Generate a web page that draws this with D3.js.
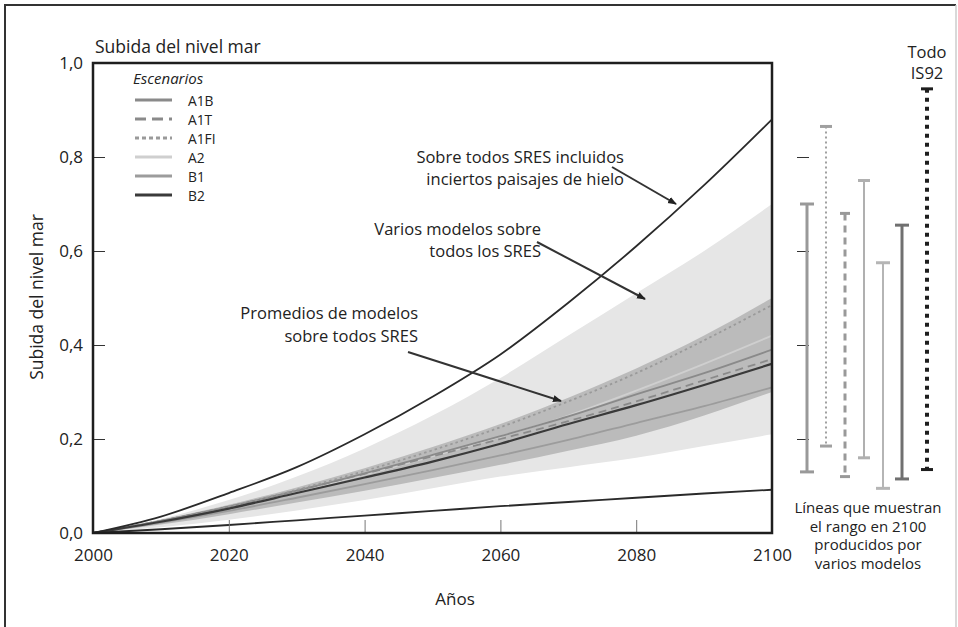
<!DOCTYPE html>
<html>
<head>
<meta charset="utf-8">
<script src="https://cdn.jsdelivr.net/npm/d3@7"></script>
<style>
  body { margin: 0; background: #fff; }
  svg { font-family: "Open Sans", sans-serif; }
  text { fill: #222; }
</style>
</head>
<body>
<div id="canvas"></div>
<script>
// years along the x axis
const years = [2000, 2010, 2020, 2030, 2040, 2050, 2060, 2070, 2080, 2090, 2100];

// outer envelope (all SRES incl. land-ice uncertainty) and lowest bound
const envHigh = [0, 0.035, 0.085, 0.14, 0.21, 0.29, 0.38, 0.49, 0.61, 0.74, 0.88];
const envLow  = [0, 0.008, 0.017, 0.027, 0.037, 0.047, 0.057, 0.066, 0.075, 0.084, 0.092];

// several models, all SRES (light band)
const modelsHigh = [0, 0.03, 0.07, 0.12, 0.18, 0.25, 0.33, 0.42, 0.51, 0.60, 0.70];
const modelsLow  = [0, 0.012, 0.028, 0.048, 0.07, 0.095, 0.12, 0.14, 0.16, 0.185, 0.21];

// model averages, all SRES (dark band)
const meanHigh = [0, 0.028, 0.06, 0.097, 0.138, 0.183, 0.232, 0.288, 0.35, 0.42, 0.50];
const meanLow  = [0, 0.018, 0.04, 0.065, 0.09, 0.117, 0.145, 0.175, 0.207, 0.25, 0.30];

// scenario curves
const scenarios = ["A1B", "A1T", "A1FI", "A2", "B1", "B2"];
const sA1B  = [0, 0.026, 0.056, 0.09, 0.127, 0.166, 0.206, 0.248, 0.295, 0.34, 0.39];
const sA1T  = [0, 0.026, 0.056, 0.09, 0.126, 0.163, 0.2, 0.238, 0.28, 0.325, 0.37];
const sA1FI = [0, 0.025, 0.056, 0.092, 0.132, 0.176, 0.225, 0.28, 0.34, 0.41, 0.485];
const sA2   = [0, 0.024, 0.053, 0.087, 0.124, 0.163, 0.205, 0.25, 0.303, 0.36, 0.42];
const sB1   = [0, 0.022, 0.047, 0.075, 0.104, 0.134, 0.165, 0.198, 0.234, 0.27, 0.31];
const sB2   = [0, 0.024, 0.052, 0.085, 0.118, 0.152, 0.19, 0.232, 0.272, 0.315, 0.36];

// ranges in 2100 from several models
const barNames = ["A1B", "A1FI", "A1T", "A2", "B1", "B2", "IS92"];
const barLow   = [0.13, 0.185, 0.12, 0.16, 0.095, 0.115, 0.135];
const barHigh  = [0.70, 0.865, 0.68, 0.75, 0.575, 0.655, 0.945];

const yTicks = [0, 0.2, 0.4, 0.6, 0.8, 1.0];
const xTicks = [2000, 2020, 2040, 2060, 2080, 2100];

const style = {
  A1B:  { stroke: "#8a8a8a", dash: null },
  A1T:  { stroke: "#8a8a8a", dash: "8,5" },
  A1FI: { stroke: "#9a9a9a", dash: "2.5,3" },
  A2:   { stroke: "#cfcfcf", dash: null },
  B1:   { stroke: "#9c9c9c", dash: null },
  B2:   { stroke: "#3a3a3a", dash: null }
};
const barStyle = {
  A1B:  { stroke: "#999", width: 3, dash: null, cap: 14 },
  A1FI: { stroke: "#a0a0a0", width: 2, dash: "2,3", cap: 12 },
  A1T:  { stroke: "#999", width: 3, dash: "7,5", cap: 10 },
  A2:   { stroke: "#b0b0b0", width: 2, dash: null, cap: 12 },
  B1:   { stroke: "#b5b5b5", width: 2, dash: null, cap: 14 },
  B2:   { stroke: "#707070", width: 3, dash: null, cap: 14 },
  IS92: { stroke: "#1e1e1e", width: 4, dash: "4,5", cap: 12 }
};

const W = 958, H = 627;
const svg = d3.select("#canvas").append("svg")
    .attr("width", W)
    .attr("height", H);

// outer frame
svg.append("path").attr("d", "M5,627V5H956").attr("fill", "none")
    .attr("stroke", "#333").attr("stroke-width", 2);
svg.append("line").attr("x1", 956).attr("x2", 956).attr("y1", 5).attr("y2", 627)
    .attr("stroke", "#ccc").attr("stroke-width", 1.5);

const x = d3.scaleLinear().domain([2000, 2100]).range([93, 772]);
const y = d3.scaleLinear().domain([0, 1]).range([533, 63]);

const zip = arr => years.map((yr, i) => ({ yr, v: arr[i] }));
const line = d3.line().x(d => x(d.yr)).y(d => y(d.v)).curve(d3.curveMonotoneX);
const band = (lo, hi) => d3.area()
    .x((d, i) => x(years[i]))
    .y0((d, i) => y(lo[i]))
    .y1((d, i) => y(hi[i]))
    .curve(d3.curveMonotoneX)(years);

// bands
svg.append("path").attr("d", band(modelsLow, modelsHigh)).attr("fill", "#e6e6e6");
svg.append("path").attr("d", band(meanLow, meanHigh)).attr("fill", "#bbbbbb");

// scenario lines
const series = { A1B: sA1B, A1T: sA1T, A1FI: sA1FI, A2: sA2, B1: sB1, B2: sB2 };
["A2", "B1", "A1B", "A1T", "A1FI", "B2"].forEach(k => {
  svg.append("path")
      .attr("d", line(zip(series[k])))
      .attr("fill", "none")
      .attr("stroke", style[k].stroke)
      .attr("stroke-width", k === "B2" ? 2.2 : 1.8)
      .attr("stroke-dasharray", style[k].dash);
});

// envelope lines
[envHigh, envLow].forEach(arr => {
  svg.append("path")
      .attr("d", line(zip(arr)))
      .attr("fill", "none")
      .attr("stroke", "#2a2a2a")
      .attr("stroke-width", 1.8);
});

// axes
const yAxis = svg.append("g").attr("transform", "translate(93,0)")
    .call(d3.axisLeft(y).tickValues(yTicks)
      .tickFormat(d => d3.format(".1f")(d).replace(".", ","))
      .tickSizeInner(-12).tickSizeOuter(0).tickPadding(10));
yAxis.select(".domain").remove();
yAxis.selectAll("line").attr("stroke", "#333");
yAxis.selectAll("text").attr("font-size", 17).attr("fill", "#222")
    .attr("font-family", "Open Sans");

const xAxis = svg.append("g").attr("transform", "translate(0,533)")
    .call(d3.axisBottom(x).tickValues(xTicks).tickFormat(d3.format("d"))
      .tickSizeInner(-13).tickSizeOuter(0).tickPadding(16));
xAxis.select(".domain").remove();
xAxis.selectAll("line").attr("stroke", "#777");
xAxis.selectAll("text").attr("font-size", 17).attr("fill", "#222")
    .attr("font-family", "Open Sans");

// plot box
svg.append("rect")
    .attr("x", x(2000)).attr("y", y(1))
    .attr("width", x(2100) - x(2000)).attr("height", y(0) - y(1))
    .attr("fill", "none").attr("stroke", "#1e1e1e").attr("stroke-width", 2.5);

// right-hand ticks
const rAxis = svg.append("g").attr("transform", "translate(797,0)")
    .call(d3.axisRight(y).tickValues([0.2, 0.4, 0.6, 0.8]).tickSize(12).tickFormat(""));
rAxis.select(".domain").remove();
rAxis.selectAll("line").attr("stroke", "#333");

// range bars in 2100
const bx = d3.scalePoint().domain(barNames).range([807, 921]);
barNames.forEach((k, i) => {
  const s = barStyle[k];
  const cx = bx(k) + (k === "IS92" ? 6 : 0);
  const g = svg.append("g").attr("stroke", s.stroke);
  g.append("line").attr("x1", cx).attr("x2", cx)
      .attr("y1", y(barHigh[i])).attr("y2", y(barLow[i]))
      .attr("stroke-width", s.width).attr("stroke-dasharray", s.dash);
  [barHigh[i], barLow[i]].forEach(v => {
    g.append("line").attr("x1", cx - s.cap / 2).attr("x2", cx + s.cap / 2)
        .attr("y1", y(v)).attr("y2", y(v)).attr("stroke-width", 3);
  });
});

// arrows
svg.append("defs").append("marker")
    .attr("id", "head").attr("viewBox", "0 -4 9 8")
    .attr("refX", 8).attr("refY", 0)
    .attr("markerWidth", 9).attr("markerHeight", 8)
    .attr("markerUnits", "userSpaceOnUse").attr("orient", "auto")
  .append("path").attr("d", "M0,-3.5L9,0L0,3.5Z").attr("fill", "#222");

const arrows = [
  [612, 167, 676, 204],
  [537, 242, 645, 299],
  [408, 352, 561, 401]
];
arrows.forEach(a => {
  svg.append("line").attr("x1", a[0]).attr("y1", a[1]).attr("x2", a[2]).attr("y2", a[3])
      .attr("stroke", "#333").attr("stroke-width", 2).attr("marker-end", "url(#head)");
});

// annotations
const note = (lines, xe, y0, size, gap, anchor) => {
  const t = svg.append("text").attr("font-size", size).attr("text-anchor", anchor || "end");
  lines.forEach((s, i) => t.append("tspan").attr("x", xe).attr("y", y0 + i * gap).text(s));
};
note(["Sobre todos SRES incluidos", "inciertos paisajes de hielo"], 624, 163, 16.5, 21.5);
note(["Varios modelos sobre", "todos los SRES"], 541, 235, 16.5, 22);
note(["Promedios de modelos", "sobre todos SRES"], 418, 319, 16.5, 22.5);
note(["Todo", "IS92"], 927, 58, 16.5, 21, "middle");
note(["Líneas que muestran", "el rango en 2100", "producidos por", "varios modelos"],
     868, 513, 15, 18.7, "middle");

// titles
svg.append("text").attr("x", 95).attr("y", 53).attr("font-size", 17.5).text("Subida del nivel mar");
svg.append("text").attr("x", 455).attr("y", 605).attr("font-size", 17)
    .attr("text-anchor", "middle").text("Años");
svg.append("text").attr("transform", "translate(43,297) rotate(-90)")
    .attr("font-size", 17.5).attr("text-anchor", "middle").text("Subida del nivel mar");

// legend
svg.append("text").attr("x", 133).attr("y", 84).attr("font-size", 15)
    .attr("font-style", "italic").text("Escenarios");
const ly = d3.scalePoint().domain(scenarios).range([100, 195]);
scenarios.forEach(k => {
  const s = style[k];
  svg.append("line").attr("x1", 135).attr("x2", 172)
      .attr("y1", ly(k)).attr("y2", ly(k))
      .attr("stroke", s.stroke).attr("stroke-width", 3)
      .attr("stroke-dasharray", s.dash ? (k === "A1T" ? "11,6" : "4,3") : null);
  svg.append("text").attr("x", 188).attr("y", ly(k) + 5.5).attr("font-size", 13.8).text(k);
});
</script>
</body>
</html>
